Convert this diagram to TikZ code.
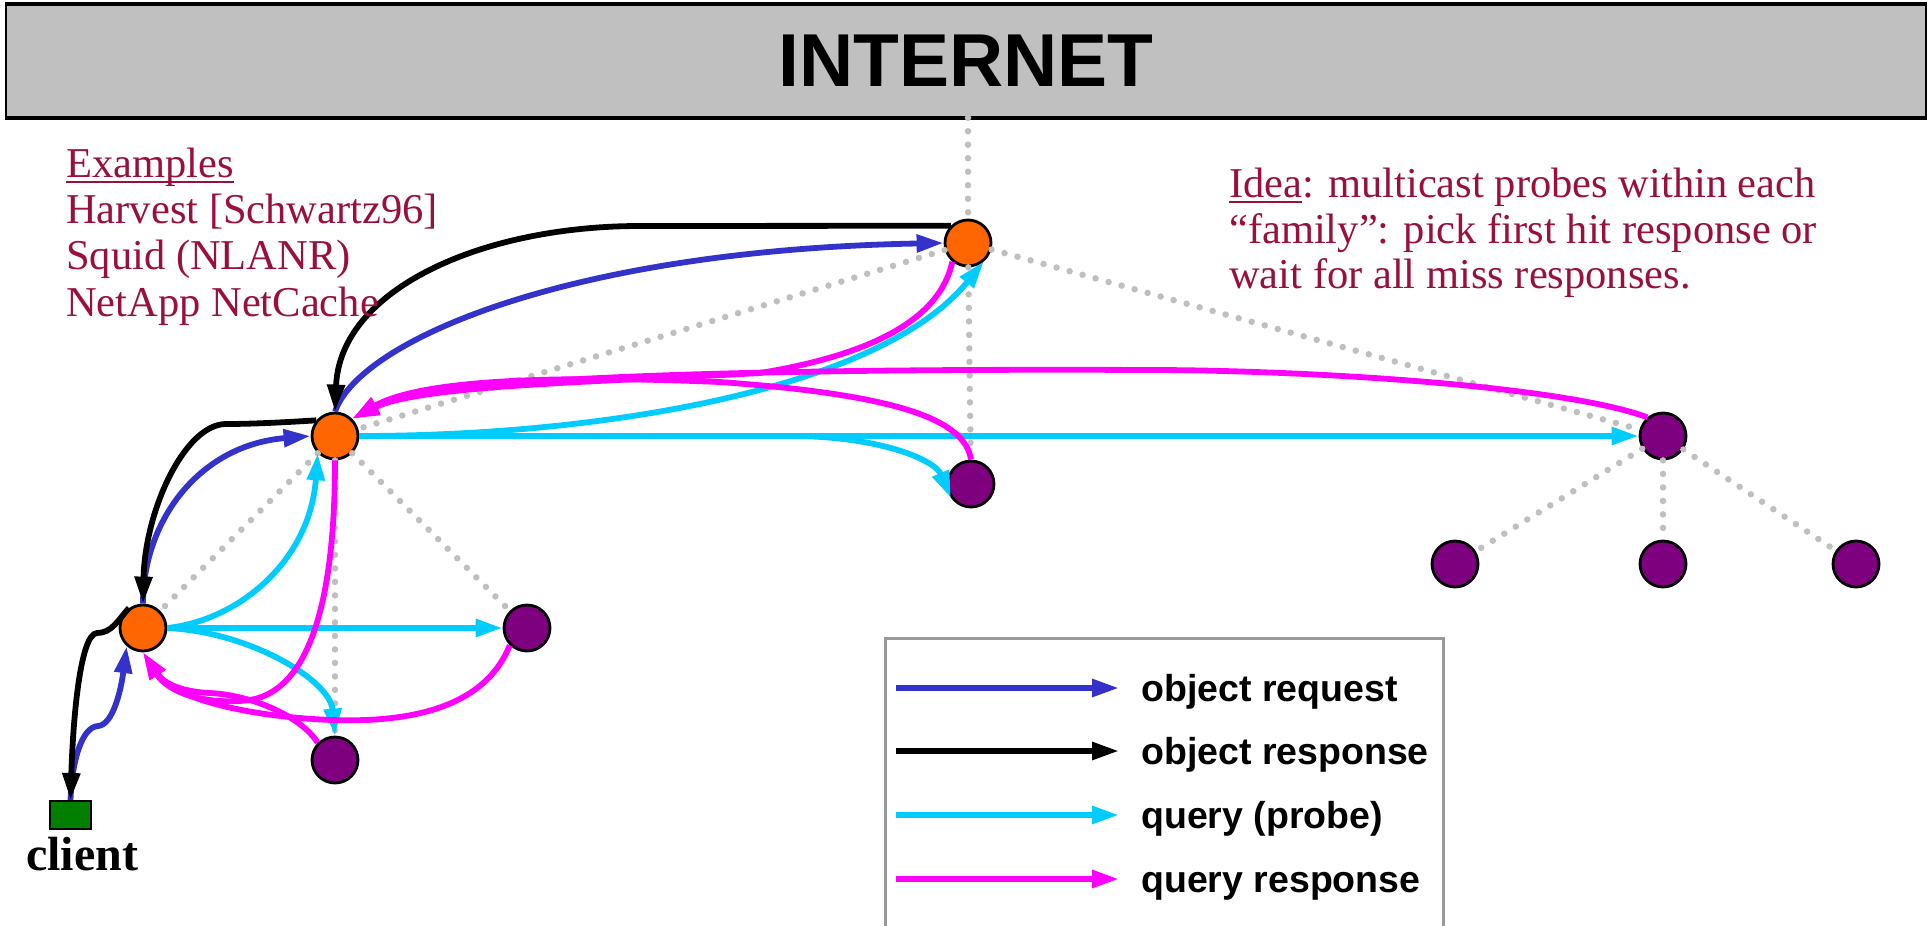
\documentclass[tikz,border=0pt]{standalone}
\usepackage{fontspec}
\setmainfont{Liberation Serif}
\newfontfamily\hvfont{Liberation Sans}
\usetikzlibrary{arrows.meta}

\definecolor{netgray}{HTML}{C0C0C0}
\definecolor{dotgray}{HTML}{BFBFBF}
\definecolor{reqblue}{HTML}{3333CC}
\definecolor{qcyan}{HTML}{00CCFF}
\definecolor{qmag}{HTML}{FF00FF}
\definecolor{cacheorange}{HTML}{FF6600}
\definecolor{leafpurple}{HTML}{7F007F}
\definecolor{clientgreen}{HTML}{007F00}
\definecolor{notered}{HTML}{99103D}
\definecolor{framegray}{HTML}{999999}

% underline sitting just below the baseline, through the descenders
\newcommand\ulword[1]{\setbox0=\hbox{#1}\rlap{\rule[-6pt]{\wd0}{2.2pt}}\box0}

\begin{document}
\begin{tikzpicture}[x=1pt,y=-1pt,
  cache/.style={circle, draw=black, line width=2.8pt, fill=cacheorange, minimum size=46pt, inner sep=0pt},
  leaf/.style={circle, draw=black, line width=2.8pt, fill=leafpurple, minimum size=46pt, inner sep=0pt},
  tree/.style={draw=dotgray, line width=6.5pt, line cap=round, dash pattern=on 0pt off 13.5pt},
  flow/.style={line width=5.8pt, -{Triangle[length=27pt,width=17pt]}},
  req/.style={flow, draw=reqblue},
  resp/.style={flow, draw=black},
  qry/.style={flow, draw=qcyan},
  qresp/.style={flow, draw=qmag},
  note/.style={text=notered, inner sep=0pt, anchor=base west, font=\fontsize{42.5}{46}\selectfont},
  legtext/.style={inner sep=0pt, anchor=base west, font=\hvfont\bfseries\fontsize{37.5}{40}\selectfont}
]
\useasboundingbox (0,0) rectangle (1930,926);

% the Internet banner
\node[draw=black, line width=1.5pt, fill=netgray, minimum width=1920pt, minimum height=112pt, inner sep=0pt,
      font=\hvfont\bfseries\fontsize{75}{80}\selectfont] (inet) at (966,61) {INTERNET};
\draw[line width=4pt] (inet.north west) -- (inet.north east);
\draw[line width=4pt] (inet.south west) -- (inet.south east);

% caches and leaves
\node[cache] (D) at (968,243) {};
\node[cache] (B) at (335,436) {};
\node[cache] (C) at (143,628) {};
\node[leaf] (E) at (971,484) {};
\node[leaf] (F) at (1663,436) {};
\node[leaf] (F1) at (1455,564) {};
\node[leaf] (F2) at (1663,564) {};
\node[leaf] (F3) at (1856,564) {};
\node[leaf] (G) at (527,628) {};
\node[leaf] (H) at (335,760) {};
\node[draw=black, line width=2pt, fill=clientgreen, minimum width=41pt, minimum height=28pt, inner sep=0pt] (cl) at (70.5,815) {};
\node[inner sep=0pt, anchor=base, font=\bfseries\fontsize{48}{50}\selectfont] (cllabel) at (82,870) {client};

% hierarchy links
\draw[tree] (inet.south -| D) -- (D);
\draw[tree] (D) -- (B);
\draw[tree] (D) -- (E);
\draw[tree] (D) -- (F);
\draw[tree] (B) -- (C);
\draw[tree] (B) -- (H);
\draw[tree] (B) -- (G);
\draw[tree] (F) -- (F1);
\draw[tree] (F) -- (F2);
\draw[tree] (F) -- (F3);

% queries (probes)
\draw[qry] (C.east) -- (G.west);
\draw[qry] (C.east) .. controls (250,632) and (330,680) .. (H.north);
\draw[qry] (C.east) .. controls (240,620) and (310,560) .. (B.225);
\draw[qry] (B.east) -- (F.west);
\draw[qry] (B.east) -- (790,436) .. controls (880,436) and (935,460) .. (E.215);
\draw[qry] (B.east) .. controls (600,436) and (880,390) .. (D.310);

% query responses
\draw[qresp] (H.135) .. controls (300,715) and (250,695) .. (210,693) .. controls (185,692) and (165,685) .. (C.south);
\draw[qresp] (G.225) .. controls (480,720) and (380,725) .. (300,718) .. controls (230,712) and (170,695) .. (C.south);
\draw[qresp] (B.south) .. controls (335,600) and (310,690) .. (250,700) .. controls (210,705) and (170,695) .. (C.south);
\draw[qresp] (F.130) .. controls (1560,385) and (1300,370) .. (1150,370) .. controls (700,368) and (420,380) .. (B.45);
\draw[qresp] (E.north) .. controls (965,420) and (900,395) .. (720,382) .. controls (550,375) and (420,380) .. (B.45);
\draw[qresp] (D.230) .. controls (940,320) and (870,355) .. (760,373) .. controls (600,382) and (420,385) .. (B.45);

% object requests
\draw[req] (cl.north) .. controls (72,760) and (82,727) .. (98,726) .. controls (113,725) and (121,690) .. (C.228);
\draw[req] (C.north) .. controls (143,520) and (200,445) .. (B.west);
\draw[req] (B.north) .. controls (360,340) and (570,250) .. (D.west);

% object responses
\draw[resp] (D.135) -- (640,226) .. controls (480,226) and (340,290) .. (B.north);
\draw[resp] (B.140) .. controls (290,422) and (255,424) .. (226,424) .. controls (185,424) and (145,510) .. (C.north);
\draw[resp] (C.125) .. controls (118,620) and (112,633) .. (97,633) .. controls (80,634) and (73,720) .. (cl.north);

% notes
\node[note] (ex1) at (66,177) {\ulword{Examples}};
\node[note] (ex2) at (66,223) {Harvest [Schwartz96]};
\node[note] (ex3) at (66,269) {Squid (NLANR)};
\node[note] (ex4) at (66,316) {NetApp NetCache};
\node[note] (idea1) at (1229,197) {\ulword{Idea}: multicast probes within each};
\node[note] (idea2) at (1229,243) {“family”: pick first hit response or};
\node[note] (idea3) at (1229,288) {wait for all miss responses.};

% legend
\draw[draw=framegray, line width=3pt] (885,940) |- (1443,638) -- (1443,940);
\coordinate (k1a) at (896,688);  \coordinate (k1b) at (1119,688);
\coordinate (k2a) at (896,751);  \coordinate (k2b) at (1119,751);
\coordinate (k3a) at (896,815);  \coordinate (k3b) at (1119,815);
\coordinate (k4a) at (896,879);  \coordinate (k4b) at (1119,879);
\draw[req] (k1a) -- (k1b);
\draw[resp] (k2a) -- (k2b);
\draw[qry] (k3a) -- (k3b);
\draw[qresp] (k4a) -- (k4b);
\node[legtext] (t1) at (1141,701) {object request};
\node[legtext] (t2) at (1141,764) {object response};
\node[legtext] (t3) at (1141,828) {query (probe)};
\node[legtext] (t4) at (1141,892) {query response};
\end{tikzpicture}
\end{document}
